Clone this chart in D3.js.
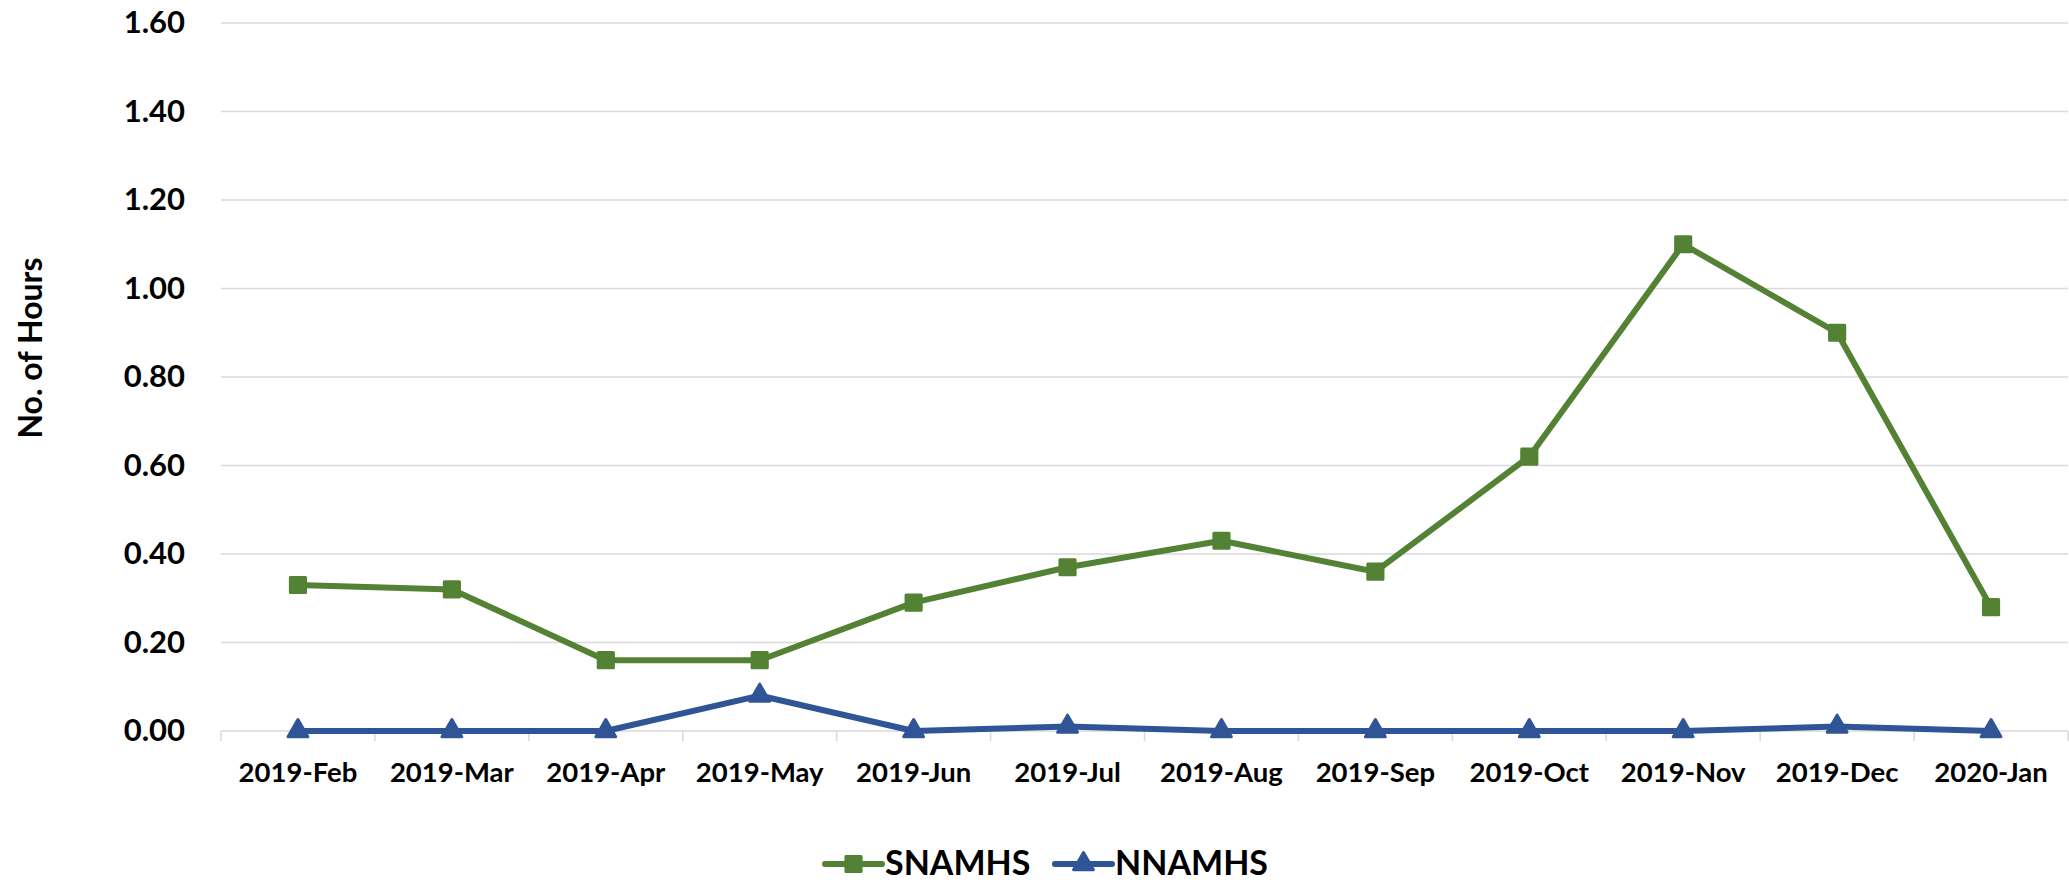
<!DOCTYPE html>
<html>
<head>
<meta charset="utf-8">
<script src="https://cdn.jsdelivr.net/npm/d3@7"></script>
<style>
  body { margin: 0; background: #fff; }
  text { font-family: Lato, "Open Sans", sans-serif; font-weight: bold; fill: #000; }
</style>
</head>
<body>
<div class="chart"></div>
<script>
// data
const months = ["2019-Feb", "2019-Mar", "2019-Apr", "2019-May", "2019-Jun", "2019-Jul",
                "2019-Aug", "2019-Sep", "2019-Oct", "2019-Nov", "2019-Dec", "2020-Jan"];
const snamhs = [0.33, 0.32, 0.16, 0.16, 0.29, 0.37, 0.43, 0.36, 0.62, 1.10, 0.90, 0.28];
const nnamhs = [0.00, 0.00, 0.00, 0.08, 0.00, 0.01, 0.00, 0.00, 0.00, 0.00, 0.01, 0.00];
const yTicks = [0, 0.2, 0.4, 0.6, 0.8, 1.0, 1.2, 1.4, 1.6];

const series = [
  { name: "SNAMHS", values: snamhs, color: "#548235", symbol: d3.symbolSquare, size: 230 },
  { name: "NNAMHS", values: nnamhs, color: "#2F5597", symbol: d3.symbolTriangle, size: 170 }
];

const W = 2069, H = 882;
const margin = { top: 23, right: 1, bottom: 151, left: 221 };
const width = W - margin.left - margin.right,
      height = H - margin.top - margin.bottom;

const svg = d3.select(".chart").append("svg")
    .attr("width", W).attr("height", H);
const g = svg.append("g")
    .attr("transform", "translate(" + margin.left + "," + margin.top + ")");

const x = d3.scaleBand().domain(months).range([0, width]).padding(0);
const y = d3.scaleLinear().domain([0, 1.6]).range([height, 0]);

// gridlines
g.selectAll(".grid").data(yTicks).enter().append("line")
    .attr("x1", 0).attr("x2", width)
    .attr("y1", d => y(d)).attr("y2", d => y(d))
    .attr("stroke", "#d9d9d9").attr("stroke-width", 1.5);

// y axis labels
const yAxis = g.append("g")
    .call(d3.axisLeft(y).tickValues(yTicks).tickFormat(d3.format(".2f")).tickSize(0).tickPadding(36));
yAxis.select(".domain").remove();
yAxis.selectAll("text").style("font-size", "31px");

// x axis
const xAxis = g.append("g")
    .attr("transform", "translate(0," + height + ")")
    .call(d3.axisBottom(x).tickSize(0).tickPadding(31));
xAxis.select(".domain").remove();
xAxis.selectAll("text").style("font-size", "27.5px");

// category boundary ticks
const bounds = months.map(m => x(m)).concat([width]);
g.selectAll(".xtick").data(bounds).enter().append("line")
    .attr("x1", d => d).attr("x2", d => d)
    .attr("y1", height).attr("y2", height + 10)
    .attr("stroke", "#d9d9d9").attr("stroke-width", 1.5);

// y axis title
svg.append("text")
    .attr("transform", "translate(42,348) rotate(-90)")
    .attr("text-anchor", "middle")
    .style("font-size", "32px")
    .text("No. of Hours");

// lines + markers
const line = d3.line()
    .x((d, i) => x(months[i]) + x.bandwidth() / 2)
    .y(d => y(d));

series.slice().reverse().forEach(s => {
  g.append("path")
      .datum(s.values)
      .attr("d", line)
      .attr("fill", "none")
      .attr("stroke", s.color)
      .attr("stroke-width", 6)
      .attr("stroke-linejoin", "round");
  g.selectAll(".m-" + s.name).data(s.values).enter().append("path")
      .attr("transform", (d, i) => "translate(" + (x(months[i]) + x.bandwidth() / 2) + "," + y(d) + ")")
      .attr("d", d3.symbol().type(s.symbol).size(s.size))
      .attr("fill", s.color)
      .attr("stroke", s.color)
      .attr("stroke-width", 3)
      .attr("stroke-linejoin", "round");
});

// legend
const legendItems = [
  { s: series[0], x0: 825 },
  { s: series[1], x0: 1055 }
];
legendItems.forEach(item => {
  const lg = svg.append("g").attr("transform", "translate(" + item.x0 + ",864)");
  lg.append("line").attr("x1", 0).attr("x2", 57)
      .attr("stroke", item.s.color).attr("stroke-width", 6).attr("stroke-linecap", "round");
  lg.append("path")
      .attr("transform", "translate(28.5,0)")
      .attr("d", d3.symbol().type(item.s.symbol).size(item.s.size))
      .attr("fill", item.s.color).attr("stroke", item.s.color)
      .attr("stroke-width", 3).attr("stroke-linejoin", "round");
  lg.append("text").attr("x", 60).attr("y", 11)
      .style("font-size", "34px")
      .text(item.s.name);
});
</script>
</body>
</html>
